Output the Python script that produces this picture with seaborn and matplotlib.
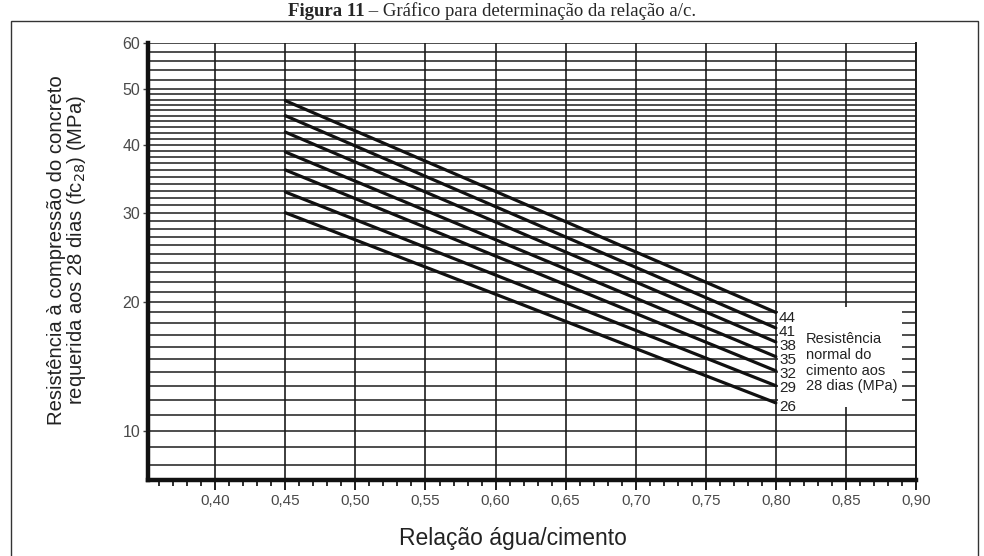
import numpy as np
import pandas as pd
import matplotlib
matplotlib.use("Agg")
import matplotlib.pyplot as plt
import seaborn as sns
from matplotlib.ticker import FixedLocator, FixedFormatter, MultipleLocator
from matplotlib.patches import Rectangle

# ---------------- data ----------------
cement_strength = [44, 41, 38, 35, 32, 29, 26]          # MPa, cement normal strength
ac_start = 0.45
ac_end = 0.80
fc_at_start = [47.8, 45.0, 42.1, 38.8, 36.0, 32.8, 30.0]  # fc28 at a/c = 0.45
fc_at_end = [19.0, 17.6, 16.4, 15.2, 14.1, 13.0, 11.8]    # fc28 at a/c = 0.80

x_ticks = [0.40, 0.45, 0.50, 0.55, 0.60, 0.65, 0.70, 0.75, 0.80, 0.85, 0.90]
x_ticklabels = ["0,40", "0,45", "0,50", "0,55", "0,60", "0,65", "0,70", "0,75", "0,80", "0,85", "0,90"]
y_ticks = [10, 20, 30, 40, 50, 60]
y_grid = list(range(8, 51)) + [52, 54, 56, 58, 60]

rows = []
for s, a, b in zip(cement_strength, fc_at_start, fc_at_end):
    rows.append({"cimento": s, "ac": ac_start, "fc": a})
    rows.append({"cimento": s, "ac": ac_end, "fc": b})
df = pd.DataFrame(rows)

# ---------------- figure ----------------
sns.set_theme(style="white")
plt.rcParams["font.family"] = ["Liberation Sans", "DejaVu Sans"]

fig = plt.figure(figsize=(9.84, 5.56), dpi=100)
ax = fig.add_axes([148 / 984, 1 - 480 / 556, (916 - 148) / 984, (480 - 43) / 556])

def fwd(v):
    return np.log10(np.asarray(v, dtype=float) + 8.0)

def inv(u):
    return 10.0 ** np.asarray(u, dtype=float) - 8.0

sns.lineplot(data=df, x="ac", y="fc", units="cimento", estimator=None,
             color="#111111", linewidth=2.3, ax=ax, zorder=3, legend=False)

ax.set_yscale("function", functions=(fwd, inv))
ax.set_xlim(0.352, 0.90)
ax.set_ylim(7.2, 60)

ax.xaxis.set_major_locator(FixedLocator(x_ticks))
ax.xaxis.set_major_formatter(FixedFormatter(x_ticklabels))
ax.xaxis.set_minor_locator(MultipleLocator(0.01))
ax.yaxis.set_major_locator(FixedLocator(y_ticks))
ax.yaxis.set_major_formatter(FixedFormatter([str(v) for v in y_ticks]))
ax.yaxis.set_minor_locator(FixedLocator(y_grid))

ax.set_axisbelow(True)
ax.grid(axis="y", which="both", color="#1c1c1c", linewidth=1.1)
ax.grid(axis="x", which="major", color="#1c1c1c", linewidth=1.2)

ax.tick_params(axis="x", which="major", direction="out", length=7.2, width=1.4,
               color="#1c1c1c", labelsize=11, labelcolor="#4a4a4a", pad=3, bottom=True)
ax.tick_params(axis="x", which="minor", direction="out", length=4.2, width=1.3,
               color="#1c1c1c", bottom=True)
ax.tick_params(axis="y", which="major", direction="out", length=3.6, width=1.0,
               color="#444444", labelsize=11.5, labelcolor="#4a4a4a", pad=2, left=True)
ax.tick_params(axis="y", which="minor", length=0, left=False)

for side in ["left", "bottom"]:
    ax.spines[side].set_color("#111111")
    ax.spines[side].set_linewidth(3.2)
ax.spines["right"].set_color("#1c1c1c")
ax.spines["right"].set_linewidth(1.4)
ax.spines["top"].set_visible(False)

ax.set_xlabel("Relação água/cimento", fontsize=16.5, color="#222222", va="top")
ax.xaxis.set_label_coords(0.475, -0.108)
ax.set_ylabel("Resistência à compressão do concreto\nrequerida aos 28 dias (fc$_{28}$) (MPa)",
              fontsize=14.6, color="#222222", linespacing=0.95)
ax.yaxis.set_label_coords(-0.078, 0.526)

# white legend box inside plot
box = Rectangle((0.8015, 11.5), 0.0885, 8.0, facecolor="white", edgecolor="none", zorder=1)
ax.add_patch(box)

label_y = [0.371, 0.339, 0.306, 0.275, 0.242, 0.211, 0.167]
for s, yy in zip(cement_strength, label_y):
    ax.text(0.8216, yy, str(s), transform=ax.transAxes, fontsize=11, color="#222222",
            ha="left", va="center", zorder=4)
ax.text(0.857, 0.268, "Resistência\nnormal do\ncimento aos\n28 dias (MPa)",
        transform=ax.transAxes, fontsize=10.5, color="#222222", ha="left", va="center",
        linespacing=1.15, zorder=4)

# outer frame
frame = Rectangle((11 / 984, -0.05), (978 - 11) / 984, 1 - 21 / 556 + 0.05,
                  transform=fig.transFigure, facecolor="none", edgecolor="#333333",
                  linewidth=1.0)
fig.patches.append(frame)

# title
title_fs = 13.5
ty = 1 - 16 / 556
t1 = fig.text(0.5, ty, "Figura 11", fontsize=title_fs, fontweight="bold",
              family=["Liberation Serif", "DejaVu Serif"], ha="left", va="baseline")
t2 = fig.text(0.5, ty, " – Gráfico para determinação da relação a/c.", fontsize=title_fs,
              family=["Liberation Serif", "DejaVu Serif"], ha="left", va="baseline")
fig.canvas.draw()
w1 = t1.get_window_extent().width / fig.bbox.width
w2 = t2.get_window_extent().width / fig.bbox.width
x0 = 0.5 - (w1 + w2) / 2
t1.set_x(x0)
t2.set_x(x0 + w1)

fig.savefig("out.png", dpi=100)
